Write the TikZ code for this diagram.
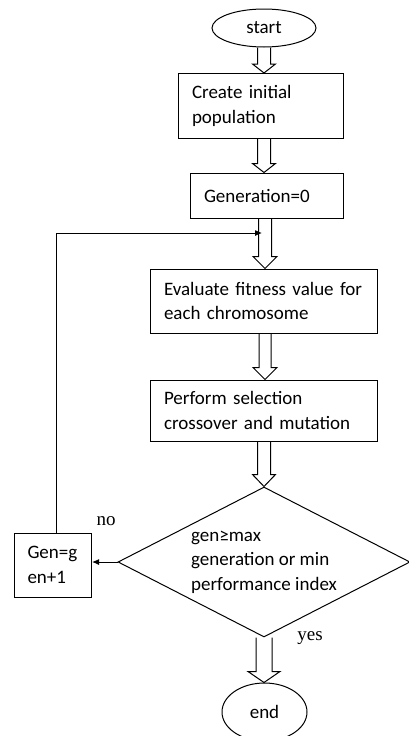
\documentclass[tikz,border=0pt]{standalone}
\usepackage{fontspec}
\setmainfont{Carlito}
\newfontfamily\serifnote{Liberation Serif}
\usetikzlibrary{shapes.geometric,arrows.meta,calc}
\newcommand{\harrow}[5]{\path[hollow] let \p1=(#1), \p2=(#2) in (\x1-#3,\y1) -- (\x1-#3,\y2+#5) -- (\x1-#4,\y2+#5) -- (\x1,\y2) -- (\x1+#4,\y2+#5) -- (\x1+#3,\y2+#5) -- (\x1+#3,\y1);}
\begin{document}
\begin{tikzpicture}[x=1pt,y=-1pt, font=\fontsize{19}{24.5}\selectfont,
 term/.style={ellipse, draw, line width=1pt, inner sep=0pt},
 box/.style={rectangle, draw, line width=1pt, align=left, inner xsep=14pt, inner ysep=0pt},
 decision/.style={diamond, draw, line width=1pt, inner sep=0pt, align=left, aspect=1.95},
 hollow/.style={draw, line width=1pt, line join=miter},
 tip/.style={-{Latex[length=7pt,width=6pt]}, line width=1pt},
 lbl/.style={font=\serifnote\fontsize{19}{22}\selectfont}]
\useasboundingbox (0,0) rectangle (409,736);
\fill[white] (0,0) rectangle (409,736);
\node[term, minimum width=104pt, minimum height=38pt] (start) at (264,28) {start};
\node[box, text width=137pt, minimum height=65pt] (init) at (260.5,106) {Create initial\\population};
\node[box, text width=125pt, minimum height=45pt] (gen0) at (266.5,195.5) {Generation=0};
\node[box, text width=199pt, minimum height=64pt] (eval) at (263.5,301) {Evaluate fitness value for\\each chromosome};
\node[box, text width=199pt, minimum height=61pt] (sel) at (263.5,410.5) {Perform selection\\crossover and mutation};
\node[decision, minimum width=292pt, minimum height=150pt] (dec) at (264,562) {gen≥max\\generation or min\\performance index};
\node[box, inner xsep=13pt, text width=51pt, minimum height=64pt] (inc) at (53,565) {Gen=g\\en+1};
\node[term, minimum width=85pt, minimum height=58pt] (end) at (264.5,712) {end};
\node[lbl] (no) at (106,521) {no};
\node[lbl] (yes) at (310,638) {yes};
\coordinate (col) at (265,0);
\harrow{start.south}{start.south |- init.north}{6.5pt}{11.5pt}{9pt}
\harrow{init.south -| start.south}{gen0.north -| start.south}{6.5pt}{11.5pt}{9pt}
\harrow{gen0.south -| col}{eval.north -| col}{6.5pt}{12pt}{12pt}
\harrow{eval.south -| col}{sel.north -| col}{6pt}{12pt}{12pt}
\harrow{sel.south -| dec.north}{dec.north}{6.5pt}{11.5pt}{12pt}
\harrow{dec.south}{end.north}{8pt}{16pt}{11pt}
\coordinate (loopx) at (56,233);
\coordinate (loopend) at (262,233);
\draw[tip] (inc.north -| loopx) -- (loopx) -- (loopend);
\draw[tip] (dec.west) -- (dec.west -| inc.east);
\end{tikzpicture}
\end{document}
